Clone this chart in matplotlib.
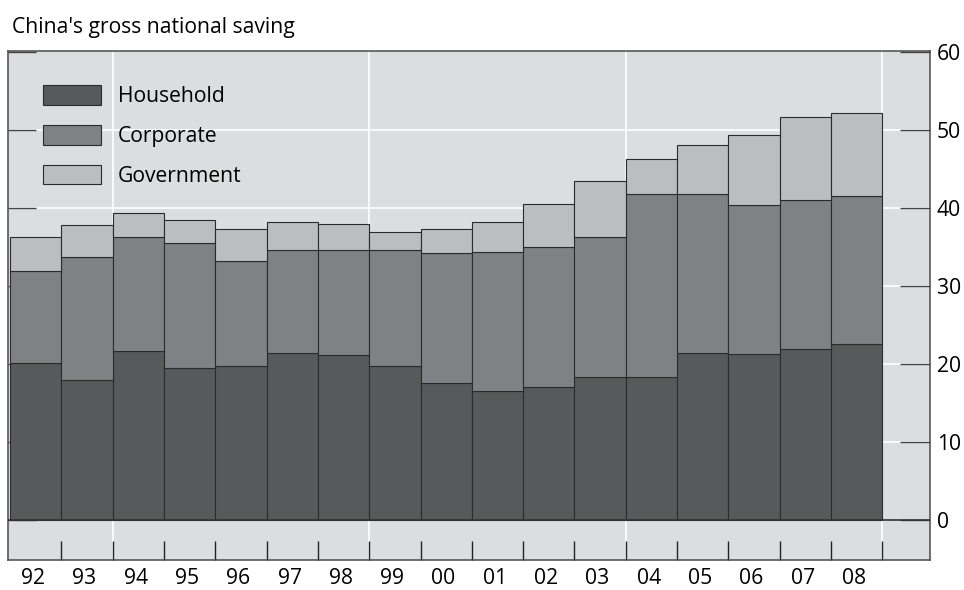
import matplotlib
matplotlib.use("Agg")
import matplotlib.pyplot as plt
from matplotlib.patches import Patch
import numpy as np

plt.rcParams['font.family'] = ['Open Sans', 'DejaVu Sans']

years = ['92', '93', '94', '95', '96', '97', '98', '99', '00', '01', '02', '03', '04', '05', '06', '07', '08']
# tops of each stacked segment, % of GDP
household = [20.1, 18.0, 21.7, 19.5, 19.7, 21.4, 21.2, 19.7, 17.6, 16.6, 17.1, 18.3, 18.3, 21.4, 21.3, 21.9, 22.6]
corp_top = [31.9, 33.7, 36.3, 35.5, 33.2, 34.6, 34.6, 34.6, 34.2, 34.3, 35.0, 36.3, 41.8, 41.8, 40.4, 41.0, 41.5]
total = [36.3, 37.8, 39.4, 38.4, 37.3, 38.2, 37.9, 36.9, 37.3, 38.2, 40.5, 43.5, 46.3, 48.0, 49.3, 51.6, 52.1]
corporate = [c - h for c, h in zip(corp_top, household)]
government = [t - c for t, c in zip(total, corp_top)]

labels = ['Household', 'Corporate', 'Government']
colors = ['#58595b', '#808184', '#bcbdc0']
yticks = [0, 10, 20, 30, 40, 50, 60]

fs = 15.2

fig = plt.figure(figsize=(9.64, 5.9), dpi=100)
ax = fig.add_axes([8/964, 30/590, 922/964, 509/590])
ax.set_facecolor('#dcdde0')
ax.set_axisbelow(True)

x = np.arange(len(years))
edge = '#2b2b2b'
ax.bar(x, household, width=1, align='edge', color=colors[0], edgecolor=edge, lw=0.8)
ax.bar(x, corporate, bottom=household, width=1, align='edge', color=colors[1], edgecolor=edge, lw=0.8)
ax.bar(x, government, bottom=corp_top, width=1, align='edge', color=colors[2], edgecolor=edge, lw=0.8)

ax.set_xlim(-0.04, 17.93)
ax.set_ylim(-5.1, 60.1)

# white grid
for v in yticks[1:-1]:
    ax.axhline(v, color='white', lw=1.2, zorder=0.4)
for v in [2, 7, 12, 17]:
    ax.axvline(v, color='white', lw=1.2, zorder=0.4)
ax.axhline(0, color='#333333', lw=1.2, zorder=3)

# y axis
ax.set_yticks(yticks)
ax.tick_params(axis='y', left=True, right=True, labelleft=False, labelright=True,
               direction='in', length=21.6, width=1.0, color='#444444', pad=5, labelsize=fs)
for t in ax.yaxis.get_major_ticks():
    t.tick1line.set_color('#8a8a8c')
    t.tick1line.set_markersize(20)

# x axis
ax.set_xticks(np.arange(1, 18))
ax.set_xticklabels([])
ax.tick_params(axis='x', which='major', direction='in', length=13.7, width=1.0, color='#222222')
ax.set_xticks(x + 0.45, minor=True)
ax.set_xticklabels(years, minor=True)
ax.tick_params(axis='x', which='minor', length=0, pad=6, labelsize=fs)

for s in ax.spines.values():
    s.set_color('#4a4a4a')
    s.set_linewidth(1.1)

handles = [Patch(facecolor=c, edgecolor=edge, lw=0.8) for c in colors]
ax.legend(handles, labels, loc='upper left', bbox_to_anchor=(43/964, 1 - 85/590),
          bbox_transform=fig.transFigure, frameon=False, fontsize=fs,
          handlelength=2.75, handleheight=1.05, labelspacing=0.85, handletextpad=0.8,
          borderpad=0, borderaxespad=0)

fig.text(12/964, 1 - 33/590, "China's gross national saving", fontsize=fs, va='baseline', ha='left')

fig.savefig('out.png', dpi=100)
